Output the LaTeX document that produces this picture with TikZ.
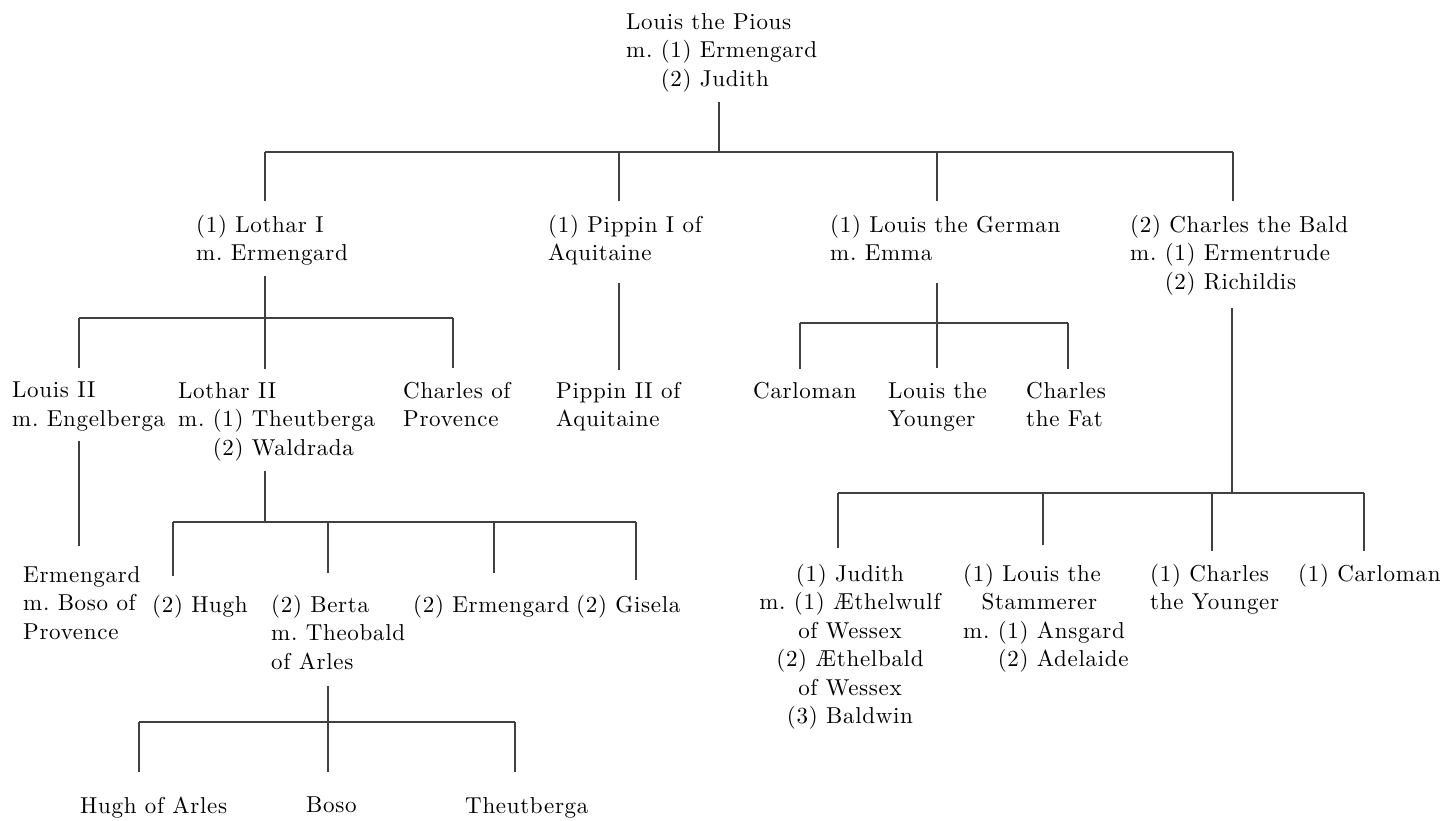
\documentclass[tikz,border=0pt]{standalone}
\usepackage{fontspec}
\setmainfont{lmroman10-regular.otf}[LetterSpace=3]
\usetikzlibrary{calc}

\tikzset{
  person/.style={inner xsep=0pt, inner ysep=10pt, anchor=north west, align=left,
    text=black, font=\fontsize{23}{28.5}\selectfont\frenchspacing},
  link/.style={line width=1.2pt, draw=black!75},
}

\begin{document}
\begin{tikzpicture}[x=1pt,y=-1pt]
    \useasboundingbox (0,0) rectangle (1449,820);

    % Louis the Pious
    \node[person] (pious) at (626,3) {Louis the Pious\\ m. (1) Ermengard\\ \phantom{m.\ }(2) Judith};

    % His sons
    \node[person] (lothar1) at (196,205) {(1) Lothar I\\ m. Ermengard};
    \node[person] (pippin1) at (548,205) {(1) Pippin I of\\ Aquitaine};
    \node[person] (lgerman) at (830,205) {(1) Louis the German\\ m. Emma};
    \node[person] (cbald) at (1130,205) {(2) Charles the Bald\\ m. (1) Ermentrude\\ \phantom{m.\ }(2) Richildis};

    % Grandsons
    \node[person] (louis2) at (12,372) {Louis II\\ m. Engelberga};
    \node[person] (lothar2) at (178,372) {Lothar II\\ m. (1) Theutberga\\ \phantom{m.\ }(2) Waldrada};
    \node[person] (charlesP) at (403,372) {Charles of\\ Provence};
    \node[person] (pippin2) at (556,372) {Pippin II of\\ Aquitaine};
    \node[person] (carloman) at (753,372) {Carloman};
    \node[person] (lyounger) at (888,372) {Louis the\\ Younger};
    \node[person] (cfat) at (1026,372) {Charles\\ the Fat};

    % Children of Louis II and Lothar II
    \node[person] (ermengard) at (23,556) {Ermengard\\ m. Boso of\\ Provence};
    \node[person] (hugh) at (152,585) {(2) Hugh};
    \node[person] (berta) at (271,585) {(2) Berta\\ m. Theobald\\ of Arles};
    \node[person] (ermengard2) at (413,585) {(2) Ermengard};
    \node[person] (gisela) at (576,585) {(2) Gisela};

    % Children of Charles the Bald
    \node[person, anchor=north, align=center] (judith) at (850,554) {(1) Judith\\ m. (1) Æthelwulf\\ of Wessex\\ (2) Æthelbald\\ of Wessex\\ (3) Baldwin};
    \node[person] (lstammerer) at (963,554) {(1) Louis the\\ \hspace*{0.8em}Stammerer\\ m. (1) Ansgard\\ \phantom{m.\ }(2) Adelaide};
    \node[person] (cyounger) at (1150,554) {(1) Charles\\ the Younger};
    \node[person] (carloman2) at (1298,554) {(1) Carloman};

    % Children of Berta
    \node[person] (hugharles) at (80,787) {Hugh of Arles};
    \node[person] (boso) at (306,787) {Boso};
    \node[person] (theutberga) at (465,787) {Theutberga};

    % Bar under Louis the Pious
    \coordinate (j-pious) at (719,152);
    \coordinate (d-lothar1) at (265,152);
    \coordinate (d-pippin1) at (619,152);
    \coordinate (d-lgerman) at (937,152);
    \coordinate (d-cbald) at (1233,152);
    \draw[link] (j-pious |- pious.south) -- (j-pious);
    \draw[link] (d-lothar1) -- (d-cbald);
    \foreach \n in {lothar1,pippin1,lgerman,cbald}
        \draw[link, shorten >=4pt] (d-\n) -- (d-\n |- \n.north);

    % Bar under Lothar I
    \coordinate (j-lothar1) at (265,318);
    \coordinate (d-louis2) at (79,318);
    \coordinate (d-charlesP) at (453,318);
    \draw[link, shorten >=3pt] (j-lothar1 |- lothar1.south) -- (j-lothar1 |- lothar2.north);
    \draw[link] (d-louis2) -- (d-charlesP);
    \foreach \n in {louis2,charlesP}
        \draw[link, shorten >=4pt] (d-\n) -- (d-\n |- \n.north);

    % Pippin I to Pippin II
    \draw[link, shorten <=7pt, shorten >=2pt] (d-pippin1 |- pippin1.south) -- (d-pippin1 |- pippin2.north);

    % Bar under Louis the German
    \coordinate (j-lgerman) at (937,323);
    \coordinate (d-carloman) at (800,323);
    \coordinate (d-cfat) at (1068,323);
    \draw[link, shorten <=12pt, shorten >=4pt] (j-lgerman |- lgerman.south) -- (j-lgerman |- lyounger.north);
    \draw[link] (d-carloman) -- (d-cfat);
    \foreach \n in {carloman,cfat}
        \draw[link, shorten >=3pt] (d-\n) -- (d-\n |- \n.north);

    % Louis II to Ermengard
    \draw[link, shorten >=10pt] (d-louis2 |- louis2.south) -- (d-louis2 |- ermengard.north);

    % Bar under Lothar II
    \coordinate (j-lothar2) at (265,522);
    \coordinate (d-hugh) at (173,522);
    \coordinate (d-berta) at (328,522);
    \coordinate (d-ermengard2) at (494,522);
    \coordinate (d-gisela) at (636,522);
    \draw[link] (j-lothar2 |- lothar2.south) -- (j-lothar2);
    \draw[link] (d-hugh) -- (d-gisela);
    \foreach \n/\g in {hugh/9,berta/12,ermengard2/12,gisela/5}
        \draw[link, shorten >=\g pt] (d-\n) -- (d-\n |- \n.north);

    % Bar under Charles the Bald
    \coordinate (j-cbald) at (1232,493);
    \coordinate (d-judith) at (838,493);
    \coordinate (d-lstammerer) at (1043,493);
    \coordinate (d-cyounger) at (1212,493);
    \coordinate (d-carloman2) at (1364,493);
    \draw[link, shorten <=3pt] (j-cbald |- cbald.south) -- (j-cbald);
    \draw[link] (d-judith) -- (d-carloman2);
    \foreach \n/\g in {judith/6,lstammerer/9,cyounger/3,carloman2/3}
        \draw[link, shorten >=\g pt] (d-\n) -- (d-\n |- \n.north);

    % Bar under Berta
    \coordinate (j-berta) at (328,722);
    \coordinate (d-hugharles) at (139,722);
    \coordinate (d-theutberga) at (515,722);
    \draw[link, shorten <=6pt, shorten >=15pt] (j-berta |- berta.south) -- (j-berta |- boso.north);
    \draw[link] (d-hugharles) -- (d-theutberga);
    \foreach \n in {hugharles,theutberga}
        \draw[link, shorten >=15pt] (d-\n) -- (d-\n |- \n.north);
\end{tikzpicture}
\end{document}
